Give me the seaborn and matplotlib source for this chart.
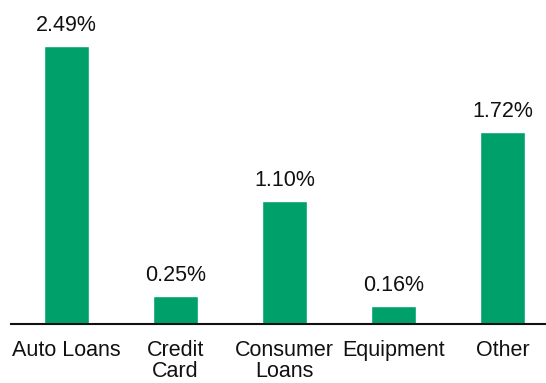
import matplotlib
matplotlib.use("Agg")
import matplotlib.pyplot as plt
import seaborn as sns
import pandas as pd

categories = ["Auto Loans", "Credit\nCard", "Consumer\nLoans", "Equipment", "Other"]
values = [2.49, 0.25, 1.10, 0.16, 1.72]
value_labels = ["2.49%", "0.25%", "1.10%", "0.16%", "1.72%"]

sns.set_style("white")
plt.rcParams["font.family"] = ["Liberation Sans", "DejaVu Sans"]

df = pd.DataFrame({"category": categories, "value": values})

fig = plt.figure(figsize=(5.46, 3.83), dpi=100)
ax = fig.add_axes([11 / 546, 59 / 383, 535 / 546, 324 / 383])

sns.barplot(data=df, x="category", y="value", color="#00A06B",
            width=0.41, saturation=1, ax=ax)

for patch, lab in zip(ax.patches, value_labels):
    ax.annotate(lab, (patch.get_x() + patch.get_width() / 2, patch.get_height()),
                xytext=(0, 11), textcoords="offset points",
                ha="center", va="baseline", fontsize=15.5, color="#111111")

ax.set_xlim(-0.51, 4.4)
ax.set_ylim(0, 2.90)
ax.set_xlabel("")
ax.set_ylabel("")
ax.set_yticks([])
for side in ["top", "right", "left"]:
    ax.spines[side].set_visible(False)
ax.spines["bottom"].set_color("#111111")
ax.spines["bottom"].set_linewidth(1.5)
ax.tick_params(axis="x", length=0, pad=11.5, labelsize=15.5, colors="#111111")
for t in ax.get_xticklabels():
    t.set_linespacing(0.98)
    t.set_verticalalignment("top")

fig.savefig("out.png", dpi=100)
